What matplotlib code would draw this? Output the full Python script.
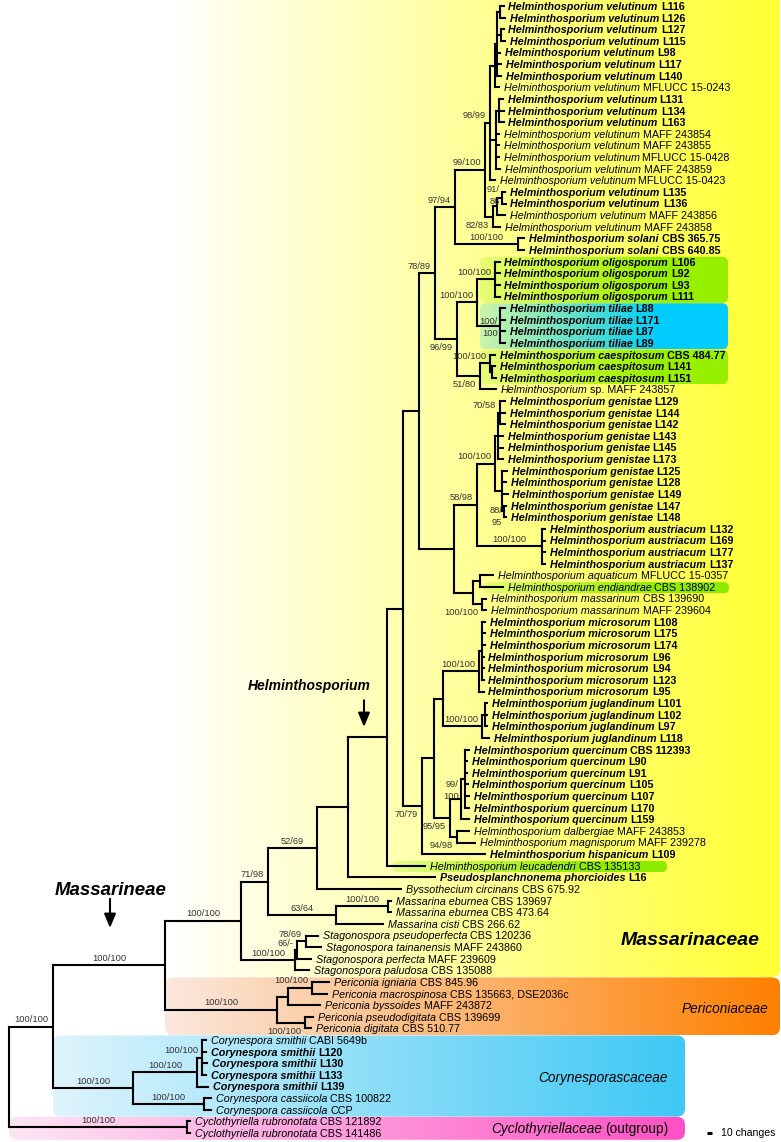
import numpy as np
import matplotlib
matplotlib.use("Agg")
import matplotlib.pyplot as plt
from matplotlib.collections import LineCollection
from matplotlib.patches import FancyBboxPatch

plt.rcParams["font.family"] = ["Liberation Sans", "DejaVu Sans"]

# taxa in tree order: (italic name, strain, new isolate shown in bold)
TAXA = [
    ("Helminthosporium velutinum", "L116", True),
    ("Helminthosporium velutinum", "L126", True),
    ("Helminthosporium velutinum", "L127", True),
    ("Helminthosporium velutinum", "L115", True),
    ("Helminthosporium velutinum", "L98", True),
    ("Helminthosporium velutinum", "L117", True),
    ("Helminthosporium velutinum", "L140", True),
    ("Helminthosporium velutinum", "MFLUCC 15-0243", False),
    ("Helminthosporium velutinum", "L131", True),
    ("Helminthosporium velutinum", "L134", True),
    ("Helminthosporium velutinum", "L163", True),
    ("Helminthosporium velutinum", "MAFF 243854", False),
    ("Helminthosporium velutinum", "MAFF 243855", False),
    ("Helminthosporium velutinum", "MFLUCC 15-0428", False),
    ("Helminthosporium velutinum", "MAFF 243859", False),
    ("Helminthosporium velutinum", "MFLUCC 15-0423", False),
    ("Helminthosporium velutinum", "L135", True),
    ("Helminthosporium velutinum", "L136", True),
    ("Helminthosporium velutinum", "MAFF 243856", False),
    ("Helminthosporium velutinum", "MAFF 243858", False),
    ("Helminthosporium solani", "CBS 365.75", True),
    ("Helminthosporium solani", "CBS 640.85", True),
    ("Helminthosporium oligosporum", "L106", True),
    ("Helminthosporium oligosporum", "L92", True),
    ("Helminthosporium oligosporum", "L93", True),
    ("Helminthosporium oligosporum", "L111", True),
    ("Helminthosporium tiliae", "L88", True),
    ("Helminthosporium tiliae", "L171", True),
    ("Helminthosporium tiliae", "L87", True),
    ("Helminthosporium tiliae", "L89", True),
    ("Helminthosporium caespitosum", "CBS 484.77", True),
    ("Helminthosporium caespitosum", "L141", True),
    ("Helminthosporium caespitosum", "L151", True),
    ("Helminthosporium", "sp. MAFF 243857", False),
    ("Helminthosporium genistae", "L129", True),
    ("Helminthosporium genistae", "L144", True),
    ("Helminthosporium genistae", "L142", True),
    ("Helminthosporium genistae", "L143", True),
    ("Helminthosporium genistae", "L145", True),
    ("Helminthosporium genistae", "L173", True),
    ("Helminthosporium genistae", "L125", True),
    ("Helminthosporium genistae", "L128", True),
    ("Helminthosporium genistae", "L149", True),
    ("Helminthosporium genistae", "L147", True),
    ("Helminthosporium genistae", "L148", True),
    ("Helminthosporium austriacum", "L132", True),
    ("Helminthosporium austriacum", "L169", True),
    ("Helminthosporium austriacum", "L177", True),
    ("Helminthosporium austriacum", "L137", True),
    ("Helminthosporium aquaticum", "MFLUCC 15-0357", False),
    ("Helminthosporium endiandrae", "CBS 138902", False),
    ("Helminthosporium massarinum", "CBS 139690", False),
    ("Helminthosporium massarinum", "MAFF 239604", False),
    ("Helminthosporium microsorum", "L108", True),
    ("Helminthosporium microsorum", "L175", True),
    ("Helminthosporium microsorum", "L174", True),
    ("Helminthosporium microsorum", "L96", True),
    ("Helminthosporium microsorum", "L94", True),
    ("Helminthosporium microsorum", "L123", True),
    ("Helminthosporium microsorum", "L95", True),
    ("Helminthosporium juglandinum", "L101", True),
    ("Helminthosporium juglandinum", "L102", True),
    ("Helminthosporium juglandinum", "L97", True),
    ("Helminthosporium juglandinum", "L118", True),
    ("Helminthosporium quercinum", "CBS 112393", True),
    ("Helminthosporium quercinum", "L90", True),
    ("Helminthosporium quercinum", "L91", True),
    ("Helminthosporium quercinum", "L105", True),
    ("Helminthosporium quercinum", "L107", True),
    ("Helminthosporium quercinum", "L170", True),
    ("Helminthosporium quercinum", "L159", True),
    ("Helminthosporium dalbergiae", "MAFF 243853", False),
    ("Helminthosporium magnisporum", "MAFF 239278", False),
    ("Helminthosporium hispanicum", "L109", True),
    ("Helminthosporium leucadendri", "CBS 135133", False),
    ("Pseudosplanchnonema phorcioides", "L16", True),
    ("Byssothecium circinans", "CBS 675.92", False),
    ("Massarina eburnea", "CBS 139697", False),
    ("Massarina eburnea", "CBS 473.64", False),
    ("Massarina cisti", "CBS 266.62", False),
    ("Stagonospora pseudoperfecta", "CBS 120236", False),
    ("Stagonospora tainanensis", "MAFF 243860", False),
    ("Stagonospora perfecta", "MAFF 239609", False),
    ("Stagonospora paludosa", "CBS 135088", False),
    ("Periconia igniaria", "CBS 845.96", False),
    ("Periconia macrospinosa", "CBS 135663, DSE2036c", False),
    ("Periconia byssoides", "MAFF 243872", False),
    ("Periconia pseudodigitata", "CBS 139699", False),
    ("Periconia digitata", "CBS 510.77", False),
    ("Corynespora smithii", "CABI 5649b", False),
    ("Corynespora smithii", "L120", True),
    ("Corynespora smithii", "L130", True),
    ("Corynespora smithii", "L133", True),
    ("Corynespora smithii", "L139", True),
    ("Corynespora cassiicola", "CBS 100822", False),
    ("Corynespora cassiicola", "CCP", False),
    ("Cyclothyriella rubronotata", "CBS 121892", False),
    ("Cyclothyriella rubronotata", "CBS 141486", False),
]

# clades in newick form: leaves are TAXA indices, "support:branch length (changes)"
CLADES = {
    "root": "(massarineae,cyclothyriella)",
    "cyclothyriella": "(96:6,97:6)100/100:356",
    "massarineae": "(mass_peri,corynespora)100/100:88",
    "corynespora": "(smithii,cassiicola)100/100:160",
    "smithii": "(smithii_core,93:22)100/100:128",
    "smithii_core": "(89:8,90:8,91:10,92:8)100/100:10",
    "cassiicola": "(94:14,95:14)100/100:142",
    "mass_peri": "(massarinaceae,periconia)100/100:224",
    "periconia": "(peri_a,peri_b)100/100:224",
    "peri_a": "(peri_a1,86:64):22",
    "peri_a1": "(84:34,85:30)100/100:48",
    "peri_b": "(87:16,88:12)100/100:56",
    "massarinaceae": "(mass_a,stagonospora)100/100:152",
    "stagonospora": "(stag_a,83:28)100/100:108",
    "stag_a": "(stag_b,82:28)66/-:4",
    "stag_b": "(80:24,81:30)78/69:18",
    "mass_a": "(mass_b,massarina)71/98:54",
    "massarina": "(eburnea,79:94)63/64:136",
    "eburnea": "(77:6,78:6)100/100:104",
    "mass_b": "(helm_pseudo,76:168)52/69:98",
    "helm_pseudo": "(helminthosporium,75:174):62",
    "helminthosporium": "(helm_core,74:76):78",
    "helm_core": "(helm_a,helm_b):32",
    "helm_a": "(helm_a1,helm_a2):32",
    "helm_a1": "(velut_solani,olig_caesp)78/89:32",
    "velut_solani": "(velutinum,solani)97/94:40",
    "velutinum": "(velut_a,velut_b)99/100:60",
    "velut_a": "(velut_a1,velut_a2,15:9)98/99:10",
    "velut_a1": "(velut_a1x,7:8):10",
    "velut_a1x": "(velut_p1,velut_p2,4:6,5:8,6:8):4",
    "velut_p1": "(0:7,1:9):6",
    "velut_p2": "(2:5,3:8):8",
    "velut_a2": "(velut_q1,11:6,12:6,13:5,14:8):12",
    "velut_q1": "(8:7,9:9,10:9):6",
    "velut_b": "(velut_b1,19:14)82/83:16",
    "velut_b1": "(velut_r1,18:16):8",
    "velut_r1": "(16:6,17:7)91/86:10",
    "solani": "(20:12,21:12)100/100:126",
    "olig_caesp": "(olig_til,caesp_sp)96/99:44",
    "olig_til": "(oligosporum,tiliae)100/100:40",
    "oligosporum": "(22:9,23:9,24:9,25:9)100/100:36",
    "tiliae": "(26:9,27:9,28:9,29:9)100/100:46",
    "caesp_sp": "(caespitosum,33:31)51/80:46",
    "caespitosum": "(30:9,caesp_a)100/100:20",
    "caesp_a": "(31:5,32:7):4",
    "helm_a2": "(gen_aus,aqua_mass):70",
    "gen_aus": "(genistae,austriacum)58/98:46",
    "genistae": "(gen_a,gen_b)100/100:36",
    "gen_a": "(gen_a1,37:9,38:9,39:9):6",
    "gen_a1": "(34:9,35:10,36:9)70/58:4",
    "gen_b": "(40:9,41:8,42:11,gen_b1):14",
    "gen_b1": "(43:4,44:4)88/95:4",
    "austriacum": "(45:6,46:6,47:6,48:6)100/100:130",
    "aqua_mass": "(aqua_endi,massarinum):38",
    "aqua_endi": "(49:26,50:45):14",
    "massarinum": "(51:8,52:8)100/100:18",
    "helm_b": "(mic_quer,73:125)70/79:38",
    "mic_quer": "(mic_jug,quer_grp):24",
    "mic_jug": "(microsorum,juglandinum):18",
    "microsorum": "(micro_a,59:9)100/100:72",
    "micro_a": "(53:5,54:5,55:5,56:3,57:3,58:3):6",
    "juglandinum": "(jug_a,63:13)100/100:78",
    "jug_a": "(60:3,61:3,62:3):6",
    "quer_grp": "(quercinum,dalb_magn)95/95:32",
    "quercinum": "(quer_a,70:16)99/100:22",
    "quer_a": "(64:7,65:3,66:3,67:5,68:7,69:8):8",
    "dalb_magn": "(71:24,72:36)94/98:14",
}

# support labels not drawn above their branch: (mode, vertical shift in px)
LABEL_PLACE = {
    "velut_b": ("below", 0), "olig_caesp": ("below", 0), "caesp_sp": ("below", 0),
    "massarinum": ("below", 0), "helm_b": ("below", 0), "quer_grp": ("below", 0),
    "dalb_magn": ("below", 0), "peri_b": ("below", 0),
    "velut_r1": ("stack", -4), "tiliae": ("stack", 0), "gen_b1": ("stack", 4),
    "quercinum": ("stack", -10),
}

# families: name, first taxon, last taxon, left colour, right colour, right edge
FAMILIES = [
    ("Massarinaceae", 0, 83, (255, 255, 255), (255, 255, 50), 1542),
    ("Periconiaceae", 84, 88, (250, 232, 222), (255, 128, 0), 1542),
    ("Corynesporascaceae", 89, 95, (222, 244, 252), (62, 200, 245), 1352),
    ("Cyclothyriellaceae", 96, 97, (252, 230, 244), (255, 80, 196), 1352),
]

# highlighted taxa: first, last, colour, x from, x to
HIGHLIGHTS = [
    (22, 25, (150, 240, 0), 942, 1438),
    (26, 29, (0, 204, 255), 942, 1438),
    (30, 32, (150, 240, 0), 942, 1438),
    (50, 50, (140, 236, 0), 948, 1440),
    (74, 74, (140, 236, 0), 766, 1316),
]


def parse(s, i):
    if s[i].isalpha():
        j = i
        while j < len(s) and (s[j].isalnum() or s[j] == "_"):
            j += 1
        node, _ = parse(CLADES[s[i:j]], 0)
        node["name"] = s[i:j]
        return node, j
    if s[i] == "(":
        children = []
        i += 1
        while True:
            child, i = parse(s, i)
            children.append(child)
            ch = s[i]
            i += 1
            if ch == ")":
                break
        j = i
        while j < len(s) and s[j] not in ":,)":
            j += 1
        node = {"children": children, "label": s[i:j], "leaf": None}
        i = j
    else:
        j = i
        while s[j] not in ":,)":
            j += 1
        node = {"children": [], "label": "", "leaf": int(s[i:j])}
        i = j
    node["len"] = 0.0
    node["name"] = ""
    if i < len(s) and s[i] == ":":
        j = i + 1
        while j < len(s) and s[j] not in ",)":
            j += 1
        node["len"] = float(s[i + 1:j])
        i = j
    return node, i


def layout(node, x0, nodes):
    node["px"] = x0
    node["x"] = x0 + node["len"]
    nodes.append(node)
    if node["leaf"] is not None:
        node["y"] = node["leaf"]
        node["first"] = node["last"] = node["leaf"]
    else:
        for c in node["children"]:
            layout(c, node["x"], nodes)
        node["y"] = (node["children"][0]["y"] + node["children"][-1]["y"]) / 2
        node["first"] = node["children"][0]["first"]
        node["last"] = node["children"][-1]["last"]


tree, _ = parse("root", 0)
nodes = []
layout(tree, 0.0, nodes)

W_PX, H_PX = 781, 1142
X_MIN, X_MAX = -18, 1544
Y_MIN, Y_MAX = -0.52, 97.77
CPP = (X_MAX - X_MIN) / W_PX   # changes per pixel
RPP = (Y_MAX - Y_MIN) / H_PX   # rows per pixel

fig = plt.figure(figsize=(W_PX / 100, H_PX / 100), dpi=100)
ax = fig.add_axes([0, 0, 1, 1])
ax.axis("off")
renderer = fig.canvas.get_renderer()


def gradient_box(x0, x1, y0, y1, c0, c1, a0=1.0, a1=1.0, radius=6, z=0):
    t = np.linspace(0, 1, 256)
    img = np.zeros((1, 256, 4))
    for k in range(3):
        img[0, :, k] = (c0[k] + (c1[k] - c0[k]) * t) / 255
    img[0, :, 3] = np.clip(a0 + (a1 - a0) * t, 0, 1)
    im = ax.imshow(img, extent=(x0, x1, y1, y0), aspect="auto",
                   interpolation="bilinear", zorder=z)
    box = FancyBboxPatch((x0, y0), x1 - x0, y1 - y0,
                         boxstyle=f"round,pad=0,rounding_size={radius * CPP}",
                         mutation_aspect=RPP / CPP, facecolor="none",
                         edgecolor="none", zorder=z)
    ax.add_patch(box)
    im.set_clip_path(box)


def find_clade(first, last):
    return [n for n in nodes if n["first"] == first and n["last"] == last][0]


# family background boxes
for name, f, l, c0, c1, right in FAMILIES:
    left = find_clade(f, l)["px"]
    top = Y_MIN - 1 if f == 0 else f - 0.4
    gradient_box(left, right, top, l + 0.58, c0, c1, radius=8, z=0)

for f, l, col, x0, x1 in HIGHLIGHTS:
    r = 6 if l > f else 5.5
    gradient_box(x0, x1, f - 0.42, l + 0.55, col, col, a0=0.2, a1=1.3,
                 radius=r, z=1)

# branches
segs = []
for n in nodes:
    if n is not tree:
        segs.append([(n["px"], n["y"]), (n["x"], n["y"])])
    if n["children"]:
        segs.append([(n["x"], n["children"][0]["y"]),
                     (n["x"], n["children"][-1]["y"])])
ax.add_collection(LineCollection(segs, colors="black", linewidths=1.5,
                                 capstyle="projecting", zorder=3))


def text_width(t):
    return t.get_window_extent(renderer=renderer).width * CPP


# taxon names
FS_LEAF = 7.75
for n in nodes:
    if n["leaf"] is None:
        continue
    name, strain, new = TAXA[n["leaf"]]
    weight = "bold" if new else "normal"
    x = n["x"] + 5 * CPP
    yb = n["y"] + 3.9 * RPP
    t1 = ax.text(x, yb, name, fontsize=FS_LEAF, style="italic", weight=weight,
                 va="baseline", ha="left", zorder=5)
    ax.text(x + text_width(t1) + 3 * CPP, yb, strain, fontsize=FS_LEAF,
            weight=weight, va="baseline", ha="left", zorder=5)

# support values
FS_SUP = 6.7
for n in nodes:
    if not n["label"]:
        continue
    mode, dy = LABEL_PLACE.get(n["name"], ("above", 0))
    if mode == "stack":
        a, b = n["label"].split("/")
        xr = n["x"] - 2 * CPP
        ax.text(xr, n["y"] + (dy - 2) * RPP, a + "/", fontsize=FS_SUP, color="#333333",
                ha="right", va="baseline", zorder=5)
        ax.text(xr, n["y"] + (dy + 10) * RPP, b, fontsize=FS_SUP, color="#333333",
                ha="right", va="baseline", zorder=5)
        continue
    yb = n["y"] + (-4.5 if mode == "above" else 11) * RPP
    t = ax.text(0, yb, n["label"], fontsize=FS_SUP, color="#333333",
                va="baseline", zorder=5)
    w = text_width(t)
    if w + 12 <= n["len"]:
        t.set_x((n["px"] + n["x"]) / 2)
        t.set_ha("center")
    else:
        t.set_x(n["x"] - 4 * CPP)
        t.set_ha("right")

# family names
ax.text(1502, 80.4, "Massarinaceae", fontsize=14, weight="bold", style="italic",
        ha="right", va="center", zorder=5)
ax.text(1518, 86.3, "Periconiaceae", fontsize=9.8, style="italic",
        ha="right", va="center", zorder=5)
ax.text(1318, 92.3, "Corynesporascaceae", fontsize=9.8, style="italic",
        ha="right", va="center", zorder=5)
t = ax.text(1318, 96.65, "(outgroup)", fontsize=9.8, ha="right", va="center", zorder=5)
ax.text(1318 - text_width(t) - 3 * CPP, 96.65, "Cyclothyriellaceae", fontsize=9.8,
        style="italic", ha="right", va="center", zorder=5)

# group arrows
arrow = dict(arrowstyle="-|>,head_length=0.6,head_width=0.25", color="black",
             lw=1.5, mutation_scale=14, shrinkA=0, shrinkB=0)
ax.text(601, 58.5, "Helminthosporium", fontsize=10, weight="bold", style="italic",
        ha="center", va="center", zorder=5)
ax.annotate("", xy=(710, 62.05), xytext=(710, 59.75), arrowprops=arrow, zorder=5)
ax.text(204, 76.1, "Massarineae", fontsize=13.4, weight="bold", style="italic",
        ha="center", va="center", zorder=5)
ax.annotate("", xy=(202, 79.35), xytext=(202, 76.85), arrowprops=arrow, zorder=5)

# scale bar
ax.plot([1396, 1406], [97.0, 97.0], color="black", lw=2.2, solid_capstyle="butt", zorder=5)
ax.text(1424, 97.0, "10 changes", fontsize=7.6, ha="left", va="center", zorder=5)

ax.set_xlim(X_MIN, X_MAX)
ax.set_ylim(Y_MAX, Y_MIN)
fig.savefig("out.png", dpi=100)
